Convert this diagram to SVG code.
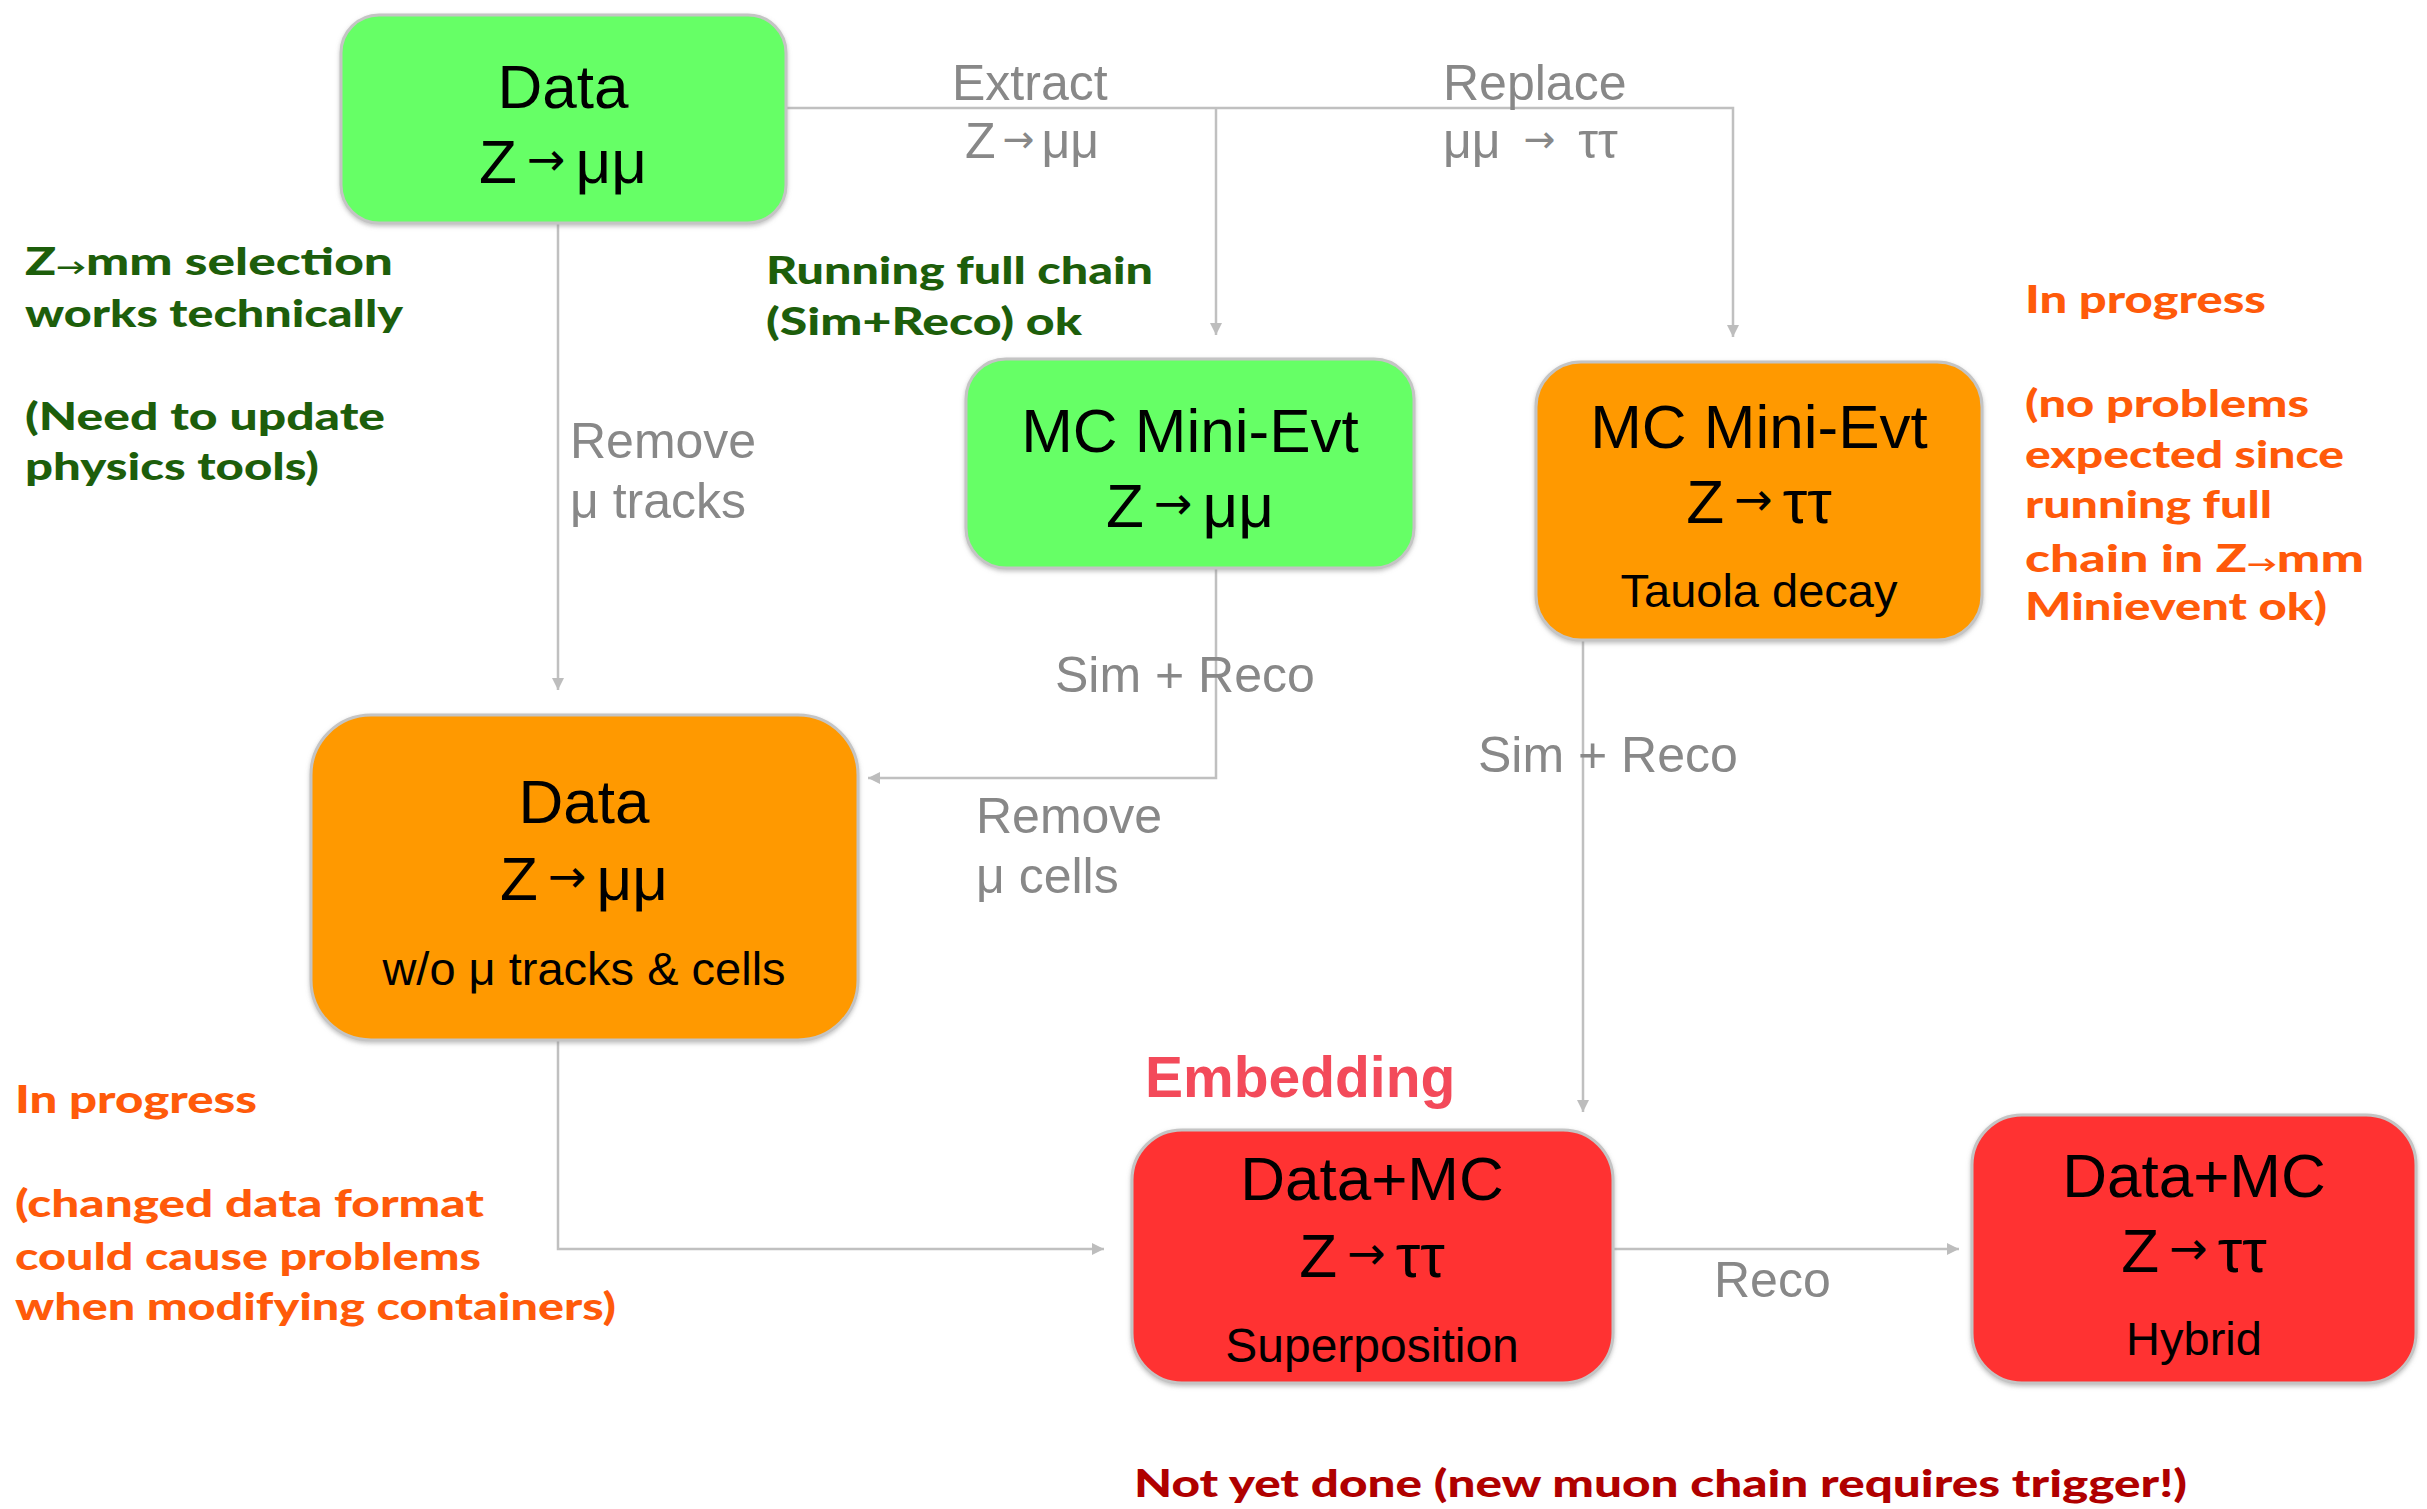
<svg xmlns="http://www.w3.org/2000/svg" width="2427" height="1509" viewBox="0 0 2427 1509">
<defs>
<marker id="ah" viewBox="0 0 10 10" refX="10" refY="5" markerWidth="14" markerHeight="12" markerUnits="userSpaceOnUse" orient="auto"><path d="M0,0 L10,5 L0,10 z" fill="#bdbdbd"/></marker>
<filter id="sh" x="-5%" y="-5%" width="110%" height="115%"><feDropShadow dx="0" dy="2" stdDeviation="2" flood-color="#888" flood-opacity="0.5"/></filter>
</defs>
<style>
.box{stroke:#c4c4c4;stroke-width:3;filter:url(#sh)}
.green{fill:#66ff66}
.orange{fill:#ff9900}
.red{fill:#ff3333}
.t{font-family:"Liberation Sans",Arial,sans-serif;fill:#000;text-anchor:middle}
.big{font-size:62px}
.sub{font-size:47px}
.arr{font-family:"DejaVu Sans",sans-serif;font-size:46px}
.lbl{font-family:"Liberation Sans",Arial,sans-serif;font-size:50px;fill:#888}
.sarr{font-family:"DejaVu Sans",sans-serif;font-size:38px}
.ann{font-family:Lato,"Open Sans",sans-serif;font-weight:900;font-size:38px}
.aarr{font-size:22px}
.gr{fill:#1d5e0b}
.or{fill:#ff5a0a}
.dr{fill:#b00000}
.emb{font-family:"Liberation Sans",Arial,sans-serif;font-weight:bold;font-size:57px;fill:#f34a5a}
.conn{fill:none;stroke:#c0c0c0;stroke-width:2.5}
</style>
<rect width="2427" height="1509" fill="#fff"/>

<g id="connectors">
<path class="conn" d="M786,108 H1733 V337" marker-end="url(#ah)"/>
<path class="conn" d="M1216,108 V335" marker-end="url(#ah)"/>
<path class="conn" d="M558,223 V690" marker-end="url(#ah)"/>
<path class="conn" d="M1216,568 V778 H868" marker-end="url(#ah)"/>
<path class="conn" d="M558,1040 V1249 H1104" marker-end="url(#ah)"/>
<path class="conn" d="M1583,641 V1112" marker-end="url(#ah)"/>
<path class="conn" d="M1613,1249 H1959" marker-end="url(#ah)"/>
</g>

<g id="edge-labels">
<text class="lbl" x="952" y="100">Extract</text>
<text class="lbl" x="965" y="158">Z<tspan class="sarr" dx="7" dy="-6">→</tspan><tspan dx="7" dy="6">μμ</tspan></text>
<text class="lbl" x="1443" y="100">Replace</text>
<text class="lbl" x="1443" y="158">μμ <tspan class="sarr" dx="9" dy="-6">→</tspan><tspan dx="9" dy="6"> ττ</tspan></text>
<text class="lbl" x="570" y="458">Remove</text>
<text class="lbl" x="570" y="518">μ tracks</text>
<text class="lbl" x="1055" y="692">Sim + Reco</text>
<text class="lbl" x="976" y="833">Remove</text>
<text class="lbl" x="976" y="893">μ cells</text>
<text class="lbl" x="1478" y="772">Sim + Reco</text>
<text class="lbl" x="1714" y="1297">Reco</text>
</g>

<g id="node-data">
<rect class="box green" x="341" y="15" width="445" height="208" rx="38"/>
<text class="t big" x="563" y="108">Data</text>
<text class="t big" x="563" y="183">Z<tspan class="arr" dx="10" dy="-8">→</tspan><tspan dx="10" dy="8">μμ</tspan></text>
</g>

<g id="node-mc-mumu">
<rect class="box green" x="966" y="359" width="448" height="209" rx="40"/>
<text class="t big" x="1190" y="452">MC Mini-Evt</text>
<text class="t big" x="1190" y="527">Z<tspan class="arr" dx="10" dy="-8">→</tspan><tspan dx="10" dy="8">μμ</tspan></text>
</g>

<g id="node-mc-tautau">
<rect class="box orange" x="1536" y="362" width="446" height="278" rx="45"/>
<text class="t big" x="1759" y="448">MC Mini-Evt</text>
<text class="t big" x="1759" y="523">Z<tspan class="arr" dx="10" dy="-8">→</tspan><tspan dx="10" dy="8">ττ</tspan></text>
<text class="t sub" x="1759" y="607">Tauola decay</text>
</g>

<g id="node-data-removed">
<rect class="box orange" x="311" y="715" width="547" height="325" rx="60"/>
<text class="t big" x="584" y="823">Data</text>
<text class="t big" x="584" y="900">Z<tspan class="arr" dx="10" dy="-8">→</tspan><tspan dx="10" dy="8">μμ</tspan></text>
<text class="t sub" x="584" y="985">w/o μ tracks &amp; cells</text>
</g>

<g id="node-superposition">
<rect class="box red" x="1132" y="1130" width="481" height="253" rx="50"/>
<text class="t big" x="1372" y="1200">Data+MC</text>
<text class="t big" x="1372" y="1277">Z<tspan class="arr" dx="10" dy="-8">→</tspan><tspan dx="10" dy="8">ττ</tspan></text>
<text class="t sub" x="1372" y="1362" style="font-size:48px">Superposition</text>
</g>

<g id="node-hybrid">
<rect class="box red" x="1972" y="1115" width="444" height="268" rx="50"/>
<text class="t big" x="2194" y="1197">Data+MC</text>
<text class="t big" x="2194" y="1272">Z<tspan class="arr" dx="10" dy="-8">→</tspan><tspan dx="10" dy="8">ττ</tspan></text>
<text class="t sub" x="2194" y="1355">Hybrid</text>
</g>

<g id="annotations">
<text class="emb" x="1145" y="1097">Embedding</text>

<text class="ann gr" x="25" y="275" textLength="368" lengthAdjust="spacingAndGlyphs">Z<tspan class="aarr">→</tspan>mm selection</text>
<text class="ann gr" x="25" y="327" textLength="378" lengthAdjust="spacingAndGlyphs">works technically</text>
<text class="ann gr" x="25" y="430" textLength="360" lengthAdjust="spacingAndGlyphs">(Need to update</text>
<text class="ann gr" x="25" y="480" textLength="294" lengthAdjust="spacingAndGlyphs">physics tools)</text>

<text class="ann gr" x="766" y="284" textLength="387" lengthAdjust="spacingAndGlyphs">Running full chain</text>
<text class="ann gr" x="766" y="335" textLength="316" lengthAdjust="spacingAndGlyphs">(Sim+Reco) ok</text>

<text class="ann or" x="2025" y="313" textLength="241" lengthAdjust="spacingAndGlyphs">In progress</text>
<text class="ann or" x="2025" y="417" textLength="284" lengthAdjust="spacingAndGlyphs">(no problems</text>
<text class="ann or" x="2025" y="468" textLength="319" lengthAdjust="spacingAndGlyphs">expected since</text>
<text class="ann or" x="2025" y="518" textLength="247" lengthAdjust="spacingAndGlyphs">running full</text>
<text class="ann or" x="2025" y="572" textLength="339" lengthAdjust="spacingAndGlyphs">chain in Z<tspan class="aarr">→</tspan>mm</text>
<text class="ann or" x="2025" y="620" textLength="302" lengthAdjust="spacingAndGlyphs">Minievent ok)</text>

<text class="ann or" x="15" y="1113" textLength="242" lengthAdjust="spacingAndGlyphs">In progress</text>
<text class="ann or" x="15" y="1217" textLength="469" lengthAdjust="spacingAndGlyphs">(changed data format</text>
<text class="ann or" x="15" y="1270" textLength="466" lengthAdjust="spacingAndGlyphs">could cause problems</text>
<text class="ann or" x="15" y="1320" textLength="601" lengthAdjust="spacingAndGlyphs">when modifying containers)</text>

<text class="ann dr" x="1134" y="1497" textLength="1053" lengthAdjust="spacingAndGlyphs">Not yet done (new muon chain requires trigger!)</text>
</g>
</svg>
